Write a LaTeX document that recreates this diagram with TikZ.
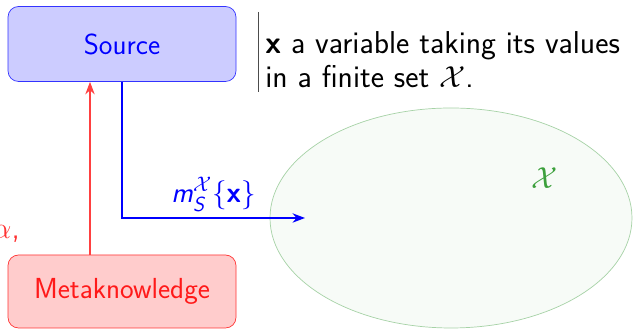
\documentclass[tikz,border=0pt]{standalone}
\usepackage{amsmath, amssymb}
\usepackage{xcolor}
\usepackage{tikz}
\usetikzlibrary{arrows.meta, positioning, shapes.geometric}
\renewcommand{\familydefault}{\sfdefault}
\definecolor{setgreen}{RGB}{60,160,60}

\begin{document}
\begin{tikzpicture}[
  box/.style={draw, rounded corners=6pt, minimum width=4.56cm, minimum height=1.5cm, align=center, font=\fontsize{16.5}{20}\selectfont},
  arr/.style={-{Stealth[length=2.5mm]}, thick},
  every node/.style={font=\fontsize{16.5}{20}\selectfont}
]
  \useasboundingbox (0,0) rectangle (12.66,6.62);
  \node[box, fill=blue!20, draw=blue!80, text=blue] (source) at (2.44,5.74) {Source};
  \node[box, fill=red!20, draw=red!80, text=red!90, minimum height=1.46cm] (meta) at (2.44,0.79) {Metaknowledge};
  \node[draw=green!50!black!35, fill=green!50!black!3, thin, ellipse, minimum width=7.24cm, minimum height=4.4cm] (set) at (9.02,2.26) {};
  \node[text=setgreen] (setlabel) at (10.9,3.06) {$\mathcal{X}$};
  \node[align=left, anchor=west, inner sep=0pt, font=\fontsize{18}{19.5}\selectfont] (note) at (5.3,5.42) {\textbf{x} a variable taking its values\\in a finite set $\mathcal{X}$.};
  \coordinate (bartop) at (5.16,6.38);
  \coordinate (barbot) at (5.16,4.78);
  \draw[black!70, thin] (bartop) -- (barbot);

  \coordinate (corner) at (2.44,2.26);
  \coordinate (target) at (6.1,2.26);
  \draw[arr, blue] (source.south -| corner) -- (corner) -- node[above, text=blue, pos=0.5] {\textsl{m}$^{\mathcal{X}}_{\textsl{S}}$\{\textbf{x}\}} (target);
  \draw[arr, red!75] (meta.north -| 1.8,0) -- (source.south -| 1.8,0);
  \node[anchor=east, text=red!80, font=\fontsize{18}{20}\selectfont] (alpha) at (0.52,1.95) {$\alpha$,};
\end{tikzpicture}
\end{document}
